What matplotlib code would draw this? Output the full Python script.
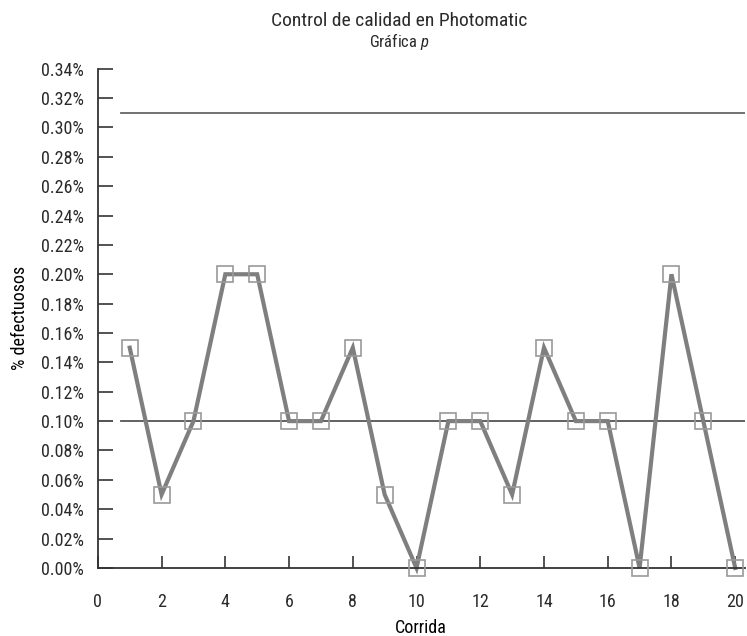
import numpy as np
import matplotlib.pyplot as plt
from matplotlib.ticker import FuncFormatter
from matplotlib import font_manager

# Run numbers and percent defective per run (p chart)
corrida = list(range(1, 21))
pct_defectuosos = [0.15, 0.05, 0.10, 0.20, 0.20, 0.10, 0.10, 0.15, 0.05, 0.00,
                   0.10, 0.10, 0.05, 0.15, 0.10, 0.10, 0.00, 0.20, 0.10, 0.00]
linea_central = 0.10
lsc = 0.31  # upper control limit
x_ticks = list(range(0, 21, 2))
y_ticks = [round(0.02 * i, 2) for i in range(18)]

# pick a narrow font if one is installed
names = {f.name for f in font_manager.fontManager.ttflist}
fam = 'DejaVu Sans'
for cand in ['Roboto Condensed', 'Liberation Sans Narrow', 'Liberation Sans']:
    if cand in names:
        fam = cand
        break
plt.rcParams['font.family'] = [fam, 'DejaVu Sans']
plt.rcParams['mathtext.fontset'] = 'custom'
plt.rcParams['mathtext.it'] = f'{fam}:italic'
plt.rcParams['mathtext.rm'] = fam
plt.rcParams['text.color'] = '#2a2a2a'

fig = plt.figure(figsize=(7.47, 6.36), dpi=100)
ax = fig.add_axes([0.131, 0.107, 0.866, 0.785])

ax.axhline(lsc, xmin=0.036, xmax=1, color='#666666', lw=1.3, zorder=1)
ax.axhline(linea_central, xmin=0.036, xmax=1, color='#555555', lw=1.3, zorder=1)

ax.plot(corrida, pct_defectuosos, color='#7f7f7f', lw=3.0, zorder=2,
        solid_joinstyle='miter', clip_on=False)
ax.plot(corrida, pct_defectuosos, ls='none', marker='s', ms=11,
        mfc='none', mec='#9a9a9a', mew=1.2, zorder=3, clip_on=False)

ax.set_xlim(0, 20.3)
ax.set_ylim(0, 0.34)
ax.set_xticks(x_ticks)
ax.set_yticks(y_ticks)
ax.yaxis.set_major_formatter(FuncFormatter(lambda v, p: f'{v:.2f}%'))

for s in ['top', 'right']:
    ax.spines[s].set_visible(False)
for s in ['left', 'bottom']:
    ax.spines[s].set_color('#333333')
    ax.spines[s].set_linewidth(1.3)

ax.tick_params(axis='y', direction='in', length=11, width=1.3, color='#444444',
               labelsize=13, pad=10, labelcolor='#2a2a2a')
ax.tick_params(axis='x', direction='in', length=9, width=1.3, color='#444444',
               labelsize=13, pad=18, labelcolor='#2a2a2a')

ax.set_xlabel('Corrida', fontsize=13, va='center')
ax.set_ylabel('% defectuosos', fontsize=13, va='center')
ax.xaxis.set_label_coords(0.5, -0.12)
ax.yaxis.set_label_coords(-0.12, 0.5)

fig.text(0.535, 0.967, 'Control de calidad en Photomatic', ha='center', va='center', fontsize=14)
fig.text(0.535, 0.934, 'Gráfica $\\it{p}$', ha='center', va='center', fontsize=12)

fig.savefig('out.png', dpi=100)
